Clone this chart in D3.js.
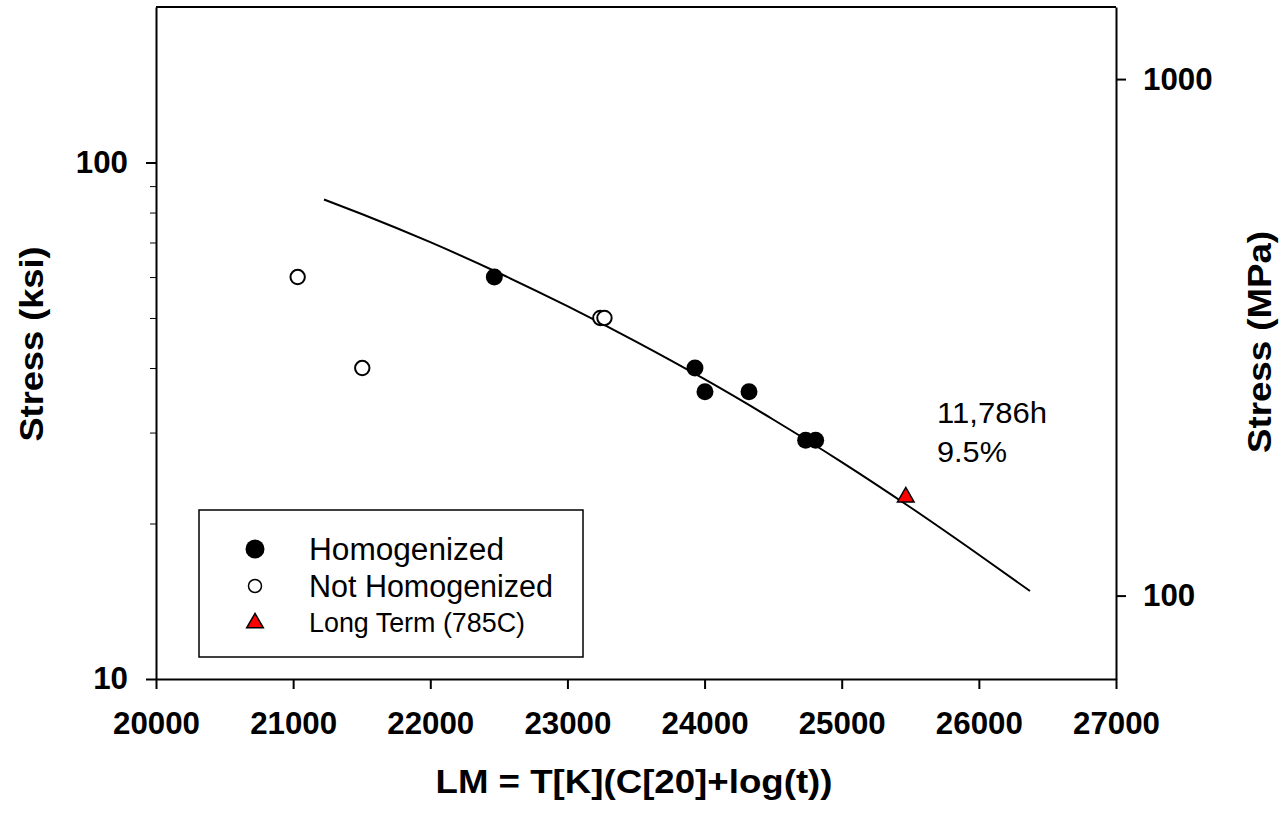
<!DOCTYPE html>
<html>
<head>
<meta charset="utf-8">
<script src="https://cdn.jsdelivr.net/npm/d3@7"></script>
<style>
  body { margin: 0; background: #fff; }
  svg { display: block; font-family: Arial, "Liberation Sans", sans-serif; }
</style>
</head>
<body>
<div id="chart"></div>
<script>
// data
const homogenizedLM = [22467, 23930, 24003, 24324, 24737, 24810];
const homogenizedKsi = [60, 40, 36, 36, 29, 29];

const notHomogenizedLM = [21033, 21504, 23240, 23270];
const notHomogenizedKsi = [60, 40, 50, 50];

const longTermLM = [25467];
const longTermKsi = [22.5];

// fitted curve as traced on the picture
const curveLM = [21225, 21500, 22000, 22500, 23000, 23500, 24000, 24500, 25000, 25500, 26000, 26373];
const curveKsi = [84.8, 79.5, 70.1, 61.1, 52.7, 45.0, 38.05, 31.8, 26.3, 21.5, 17.4, 14.8];

const xTicks = [20000, 21000, 22000, 23000, 24000, 25000, 26000, 27000];
const ksiTicks = [10, 100];
const ksiMinorTicks = [20, 30, 40, 50, 60, 70, 80, 90];
const mpaTicks = [100, 1000];
const KSI_TO_MPA = 6.894757;

const FONT = 'Arial, "Liberation Sans", sans-serif';
const width = 1283, height = 813;
const margin = { top: 7, right: 167, bottom: 134, left: 156 };
const plotW = width - margin.left - margin.right;
const plotH = height - margin.top - margin.bottom;

const svg = d3.select('#chart').append('svg')
  .attr('width', width)
  .attr('height', height);

svg.append('rect').attr('width', width).attr('height', height).attr('fill', '#fff');

const g = svg.append('g')
  .attr('transform', `translate(${margin.left},${margin.top})`);

const x = d3.scaleLinear().domain([20000, 27000]).range([0, plotW]);
const y = d3.scaleLog().domain([10, 200]).range([plotH, 0]);
const y2 = d3.scaleLog().domain([10 * KSI_TO_MPA, 200 * KSI_TO_MPA]).range([plotH, 0]);

// top frame line
g.append('line')
  .attr('x1', 0).attr('x2', plotW)
  .attr('y1', 0).attr('y2', 0)
  .attr('stroke', '#000').attr('stroke-width', 2);

// bottom axis
const xAxis = g.append('g')
  .attr('transform', `translate(0,${plotH})`)
  .call(d3.axisBottom(x).tickValues(xTicks).tickSize(10).tickSizeOuter(0).tickFormat(d3.format('d')));
xAxis.selectAll('text')
  .attr('y', 55).attr('dy', null);

// left axis
const yAxis = g.append('g')
  .call(d3.axisLeft(y).tickValues(ksiTicks).tickSize(10).tickSizeOuter(0).tickPadding(18).tickFormat(d3.format('d')));

g.append('g')
  .call(d3.axisLeft(y).tickValues(ksiMinorTicks).tickSize(6).tickSizeOuter(0).tickFormat(''))
  .select('.domain').remove();

// right axis (MPa)
const y2Axis = g.append('g')
  .attr('transform', `translate(${plotW},0)`)
  .call(d3.axisRight(y2).tickValues(mpaTicks).tickSize(10).tickSizeOuter(0).tickPadding(17).tickFormat(d3.format('d')));

[xAxis, yAxis, y2Axis].forEach(a => {
  a.attr('font-family', FONT).attr('font-size', null);
  a.selectAll('text')
    .attr('textLength', function() { return this.textContent.length * 17.4; })
    .attr('lengthAdjust', 'spacingAndGlyphs')
    .style('font-size', '31px').style('font-weight', 'bold');
  a.selectAll('line').attr('stroke-width', 2);
  a.select('.domain').attr('stroke-width', 2);
});

// fitted curve
const curvePts = curveLM.map((d, i) => [d, curveKsi[i]]);
g.append('path')
  .datum(curvePts)
  .attr('fill', 'none')
  .attr('stroke', '#000')
  .attr('stroke-width', 2)
  .attr('d', d3.line().x(d => x(d[0])).y(d => y(d[1])).curve(d3.curveMonotoneX));

// Not homogenized - open circles
g.selectAll('.open-pt')
  .data(notHomogenizedLM)
  .enter()
  .append('circle')
  .attr('class', 'open-pt')
  .attr('cx', d => x(d))
  .attr('cy', (d, i) => y(notHomogenizedKsi[i]))
  .attr('r', 7.2)
  .attr('fill', '#fff')
  .attr('stroke', '#000')
  .attr('stroke-width', 2);

// Homogenized - filled circles
g.selectAll('.fill-pt')
  .data(homogenizedLM)
  .enter()
  .append('circle')
  .attr('class', 'fill-pt')
  .attr('cx', d => x(d))
  .attr('cy', (d, i) => y(homogenizedKsi[i]))
  .attr('r', 8.5)
  .attr('fill', '#000');

// Long term - red triangle
g.selectAll('.tri-pt')
  .data(longTermLM)
  .enter()
  .append('path')
  .attr('class', 'tri-pt')
  .attr('transform', (d, i) => `translate(${x(d)},${y(longTermKsi[i])})`)
  .attr('d', d3.symbol().type(d3.symbolTriangle).size(120)())
  .attr('fill', '#ff0000')
  .attr('stroke', '#000')
  .attr('stroke-width', 1.5);

// annotation
svg.append('text')
  .attr('x', 937).attr('y', 423)
  .attr('textLength', 110).attr('lengthAdjust', 'spacingAndGlyphs')
  .style('font-size', '29px')
  .text('11,786h');
svg.append('text')
  .attr('x', 937).attr('y', 462)
  .attr('textLength', 70).attr('lengthAdjust', 'spacingAndGlyphs')
  .style('font-size', '29px')
  .text('9.5%');

// axis titles
svg.append('text')
  .attr('x', 634).attr('y', 793)
  .attr('text-anchor', 'middle')
  .attr('textLength', 397).attr('lengthAdjust', 'spacingAndGlyphs')
  .style('font-size', '34px').style('font-weight', 'bold')
  .text('LM = T[K](C[20]+log(t))');

svg.append('text')
  .attr('transform', 'translate(43,344) rotate(-90)')
  .attr('text-anchor', 'middle')
  .attr('textLength', 195).attr('lengthAdjust', 'spacingAndGlyphs')
  .style('font-size', '34px').style('font-weight', 'bold')
  .text('Stress (ksi)');

svg.append('text')
  .attr('transform', 'translate(1271,342) rotate(-90)')
  .attr('text-anchor', 'middle')
  .attr('textLength', 222).attr('lengthAdjust', 'spacingAndGlyphs')
  .style('font-size', '34px').style('font-weight', 'bold')
  .text('Stress (MPa)');

// legend
const legend = svg.append('g').attr('class', 'legend');
legend.append('rect')
  .attr('x', 199).attr('y', 510)
  .attr('width', 384).attr('height', 147)
  .attr('fill', '#fff')
  .attr('stroke', '#000')
  .attr('stroke-width', 1.5);

legend.append('circle')
  .attr('cx', 255).attr('cy', 549).attr('r', 9.5)
  .attr('fill', '#000');
legend.append('text')
  .attr('x', 309).attr('y', 560)
  .attr('textLength', 195).attr('lengthAdjust', 'spacingAndGlyphs')
  .style('font-size', '31px')
  .text('Homogenized');

legend.append('circle')
  .attr('cx', 255).attr('cy', 586).attr('r', 6.5)
  .attr('fill', '#fff')
  .attr('stroke', '#000')
  .attr('stroke-width', 1.5);
legend.append('text')
  .attr('x', 309).attr('y', 597)
  .attr('textLength', 244).attr('lengthAdjust', 'spacingAndGlyphs')
  .style('font-size', '31px')
  .text('Not Homogenized');

legend.append('path')
  .attr('transform', 'translate(255,623)')
  .attr('d', d3.symbol().type(d3.symbolTriangle).size(120)())
  .attr('fill', '#ff0000')
  .attr('stroke', '#000')
  .attr('stroke-width', 1.5);
legend.append('text')
  .attr('x', 309).attr('y', 632)
  .attr('textLength', 216).attr('lengthAdjust', 'spacingAndGlyphs')
  .style('font-size', '27px')
  .text('Long Term (785C)');
</script>
</body>
</html>
